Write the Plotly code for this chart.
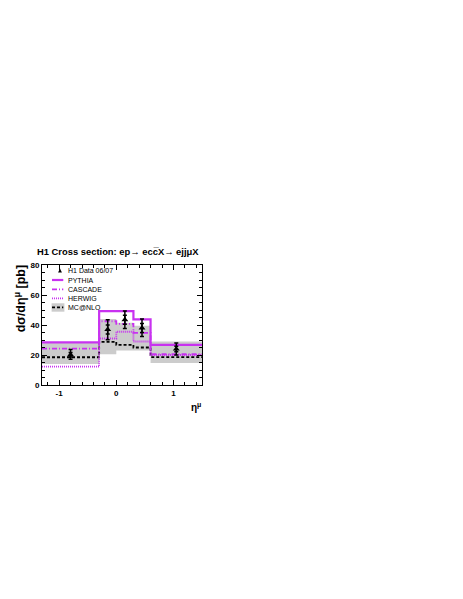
import plotly.graph_objects as go

# ---------------- data ----------------
bin_edges = [-1.3, -0.3, 0.0, 0.3, 0.6, 1.5]
pythia = [28.4, 49.3, 49.3, 43.8, 26.8]
cascade = [24.2, 42.5, 40.8, 34.8, 20.5]
herwig = [12.3, 31.0, 35.5, 29.0, 20.0]
mcnlo = [18.5, 28.8, 26.8, 25.0, 18.6]
mcnlo_low = [14.0, 20.5, 23.0, 23.0, 14.7]
mcnlo_high = [28.0, 44.0, 41.5, 39.5, 29.0]

data_x = [-0.8, -0.15, 0.15, 0.45, 1.05]
data_y = [20.2, 37.0, 43.5, 38.0, 24.0]
tot_up = [3.4, 6.5, 5.8, 6.0, 4.0]
tot_dn = [3.0, 6.8, 5.8, 5.6, 4.0]
stat_err = [1.5, 3.0, 3.0, 3.0, 1.8]

x_ticks = [-1, 0, 1]
x_ticklabels = ["-1", "0", "1"]
y_ticks = [0, 20, 40, 60, 80]
y_ticklabels = ["0", "20", "40", "60", "80"]

MAG = "#c832f0"
FONT = "Liberation Sans"


def step(vals):
    return list(vals) + [vals[-1]]


fig = go.Figure()

# MC@NLO uncertainty band (step polygon)
bx, by = [], []
for i in range(len(mcnlo_high)):
    bx += [bin_edges[i], bin_edges[i + 1]]
    by += [mcnlo_high[i], mcnlo_high[i]]
for i in reversed(range(len(mcnlo_low))):
    bx += [bin_edges[i + 1], bin_edges[i]]
    by += [mcnlo_low[i], mcnlo_low[i]]
fig.add_trace(go.Scatter(x=bx, y=by, fill="toself", fillcolor="#cccccc",
                         line=dict(width=0), mode="lines", hoverinfo="skip"))

fig.add_trace(go.Scatter(x=bin_edges, y=step(mcnlo), mode="lines", line_shape="hv",
                         line=dict(color="black", width=1.8, dash="3px,2px")))
fig.add_trace(go.Scatter(x=bin_edges, y=step(herwig), mode="lines", line_shape="hv",
                         line=dict(color=MAG, width=1.8, dash="1px,1px")))
fig.add_trace(go.Scatter(x=bin_edges, y=step(cascade), mode="lines", line_shape="hv",
                         line=dict(color=MAG, width=1.8, dash="5px,2px,1px,2px")))
fig.add_trace(go.Scatter(x=bin_edges, y=step(pythia), mode="lines", line_shape="hv",
                         line=dict(color=MAG, width=2.2)))

# data: total errors
fig.add_trace(go.Scatter(x=data_x, y=data_y, mode="markers",
                         marker=dict(symbol="triangle-up", size=6, color="black"),
                         error_y=dict(type="data", symmetric=False, array=tot_up,
                                      arrayminus=tot_dn, color="black",
                                      thickness=1.5, width=2)))
# data: statistical errors (inner ticks)
fig.add_trace(go.Scatter(x=data_x, y=data_y, mode="markers",
                         marker=dict(size=1, color="rgba(0,0,0,0)"),
                         error_y=dict(type="data", array=stat_err, color="black",
                                      thickness=1.5, width=2)))

# ---------------- legend (drawn manually) ----------------
lx0, lx1 = 0.0625, 0.133
tx = 0.148
ly = [0.9525, 0.875, 0.7975, 0.7225, 0.6475]
labels = ["H1 Data 06/07", "PYTHIA", "CASCADE", "HERWIG", "MC@NLO"]
shapes = []
cx, cy = 0.1125, ly[0]
shapes.append(dict(type="path", xref="paper", yref="paper",
                   path=f"M {cx-0.012} {cy-0.016} L {cx+0.012} {cy-0.016} L {cx} {cy+0.018} Z",
                   fillcolor="black", line=dict(width=0)))
shapes.append(dict(type="line", xref="paper", yref="paper", x0=lx0, x1=lx1, y0=ly[1], y1=ly[1],
                   line=dict(color=MAG, width=2.2)))
shapes.append(dict(type="line", xref="paper", yref="paper", x0=lx0, x1=lx1, y0=ly[2], y1=ly[2],
                   line=dict(color=MAG, width=1.8, dash="5px,2px,1px,2px")))
shapes.append(dict(type="line", xref="paper", yref="paper", x0=lx0, x1=lx1, y0=ly[3], y1=ly[3],
                   line=dict(color=MAG, width=1.8, dash="1px,1px")))
shapes.append(dict(type="rect", xref="paper", yref="paper", x0=0.06, x1=0.14, y0=0.611, y1=0.681,
                   fillcolor="#cccccc", line=dict(width=0)))
shapes.append(dict(type="line", xref="paper", yref="paper", x0=lx0, x1=lx1, y0=ly[4], y1=ly[4],
                   line=dict(color="black", width=1.8, dash="3px,2px")))

annotations = []
for lab, yy in zip(labels, ly):
    annotations.append(dict(text=lab, x=tx, y=yy, xref="paper", yref="paper",
                            xanchor="left", yanchor="middle", showarrow=False,
                            font=dict(family=FONT, size=7, color="black")))

# title
annotations.append(dict(text="H1 Cross section: ep\u2192 ecc\u0305X\u2192 ejj\u03bcX",
                        x=-0.045, y=1.0, xref="paper", yref="paper", xanchor="left",
                        yanchor="bottom", yshift=6, showarrow=False,
                        font=dict(family=FONT, size=9.4, color="black", weight="bold")))
# y title
annotations.append(dict(text="d\u03c3/d\u03b7<sup>\u03bc</sup> [pb]", x=-0.14, y=1.015,
                        xref="paper", yref="paper", xanchor="center", yanchor="top",
                        textangle=-90, showarrow=False,
                        font=dict(family=FONT, size=12.5, color="black", weight="bold")))
# x title
annotations.append(dict(text="\u03b7<sup>\u03bc</sup>", x=0.965, y=-0.12, xref="paper",
                        yref="paper", xanchor="center", yanchor="top", showarrow=False,
                        font=dict(family=FONT, size=10, color="black", weight="bold")))

fig.update_layout(
    width=455, height=591,
    margin=dict(l=34, r=261, t=257, b=214),
    paper_bgcolor="white", plot_bgcolor="white",
    showlegend=False,
    shapes=shapes, annotations=annotations,
    xaxis=dict(range=[-1.3, 1.5], tickvals=x_ticks, ticktext=x_ticklabels,
               ticks="inside", ticklen=5, tickwidth=1, tickcolor="black",
               showline=True, linecolor="black", linewidth=1, mirror="allticks",
               showgrid=False, zeroline=False,
               minor=dict(dtick=0.2, tick0=0, ticks="inside", ticklen=3, tickcolor="black", showgrid=False),
               tickfont=dict(family=FONT, size=8, color="black", weight="bold")),
    yaxis=dict(range=[0, 80], tickvals=y_ticks, ticktext=y_ticklabels,
               ticks="inside", ticklen=5, tickwidth=1, tickcolor="black",
               showline=True, linecolor="black", linewidth=1, mirror="allticks",
               showgrid=False, zeroline=False,
               minor=dict(dtick=5, tick0=0, ticks="inside", ticklen=3, tickcolor="black", showgrid=False),
               tickfont=dict(family=FONT, size=8, color="black", weight="bold")),
)

fig.write_html("out.html")
